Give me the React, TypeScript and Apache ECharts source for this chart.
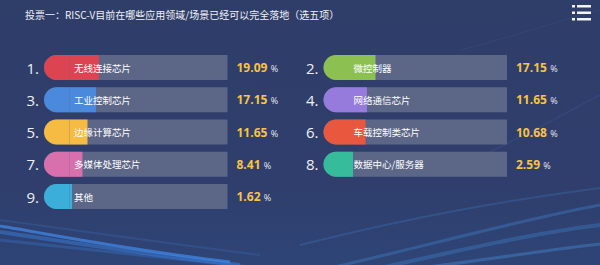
import React, { useEffect, useRef } from "react";
import * as echarts from "echarts";

const titleText = "投票一：RISC-V目前在哪些应用领域/场景已经可以完全落地（选五项）";

const leftRanks = [1, 3, 5, 7, 9];
const leftNames = ["无线连接芯片", "工业控制芯片", "边缘计算芯片", "多媒体处理芯片", "其他"];
const leftValues = [19.09, 17.15, 11.65, 8.41, 1.62];
const leftColors = ["#dd4452", "#4a89dc", "#f6bb42", "#d770ad", "#3bafda"];

const rightRanks = [2, 4, 6, 8];
const rightNames = ["微控制器", "网络通信芯片", "车载控制类芯片", "数据中心/服务器"];
const rightValues = [17.15, 11.65, 10.68, 2.59];
const rightColors = ["#8cc152", "#967adc", "#e9573f", "#37bc9b"];

const CAP = 16.5;
const AXIS_MAX = 118.8;
const TRACK = "#5c6788";
const ROW = 32.25;
const TOP = 51.4;
const BAR_W = 183.5;

function columnParts(idx: number, left: number, names: string[], ranks: number[], values: number[], colors: string[]) {
  const grid = { left, top: TOP, width: BAR_W, height: ROW * names.length, containLabel: false };
  const xAxis = { gridIndex: idx, type: "value", min: 0, max: AXIS_MAX, show: false };
  const yAxes = [
    {
      gridIndex: idx, type: "category", data: names, inverse: true, position: "left",
      axisLine: { show: false }, axisTick: { show: false }, splitLine: { show: false },
      axisLabel: {
        margin: 5, color: "#eef0f5", fontSize: 15, fontFamily: "Open Sans",
        formatter: (_v: string, i: number) => `${ranks[i]}.`,
      },
    },
    {
      gridIndex: idx, type: "category", data: names, inverse: true, position: "right",
      axisLine: { show: false }, axisTick: { show: false }, splitLine: { show: false },
      axisLabel: {
        margin: 9, align: "left",
        formatter: (_v: string, i: number) => `{v|${values[i].toFixed(2)}} {p|%}`,
        rich: {
          v: { color: "#f7c443", fontSize: 12, fontWeight: "bold", fontFamily: "Open Sans" },
          p: { color: "#e6e8ee", fontSize: 9, fontFamily: "Open Sans", padding: [2, 0, 0, 0] },
        },
      },
    },
  ];
  const series = [
    {
      type: "bar", xAxisIndex: idx, yAxisIndex: idx * 2, stack: "s" + idx, barWidth: 25,
      data: names.map((_n, i) => ({ value: CAP, itemStyle: { color: colors[i] } })),
      itemStyle: { borderRadius: [12.5, 0, 0, 12.5] },
      showBackground: true,
      backgroundStyle: { color: TRACK, borderRadius: [12.5, 0, 0, 12.5] },
      silent: true,
      z: 2,
    },
    {
      type: "bar", xAxisIndex: idx, yAxisIndex: idx * 2, stack: "s" + idx, barWidth: 25,
      data: values.map((v, i) => ({ value: v, itemStyle: { color: colors[i] } })),
      label: {
        show: true, position: "insideLeft", distance: 4.5, color: "#ffffff",
        fontSize: 9.5, fontFamily: "Noto Sans CJK SC",
        formatter: (p: any) => names[p.dataIndex],
      },
      labelLayout: { hideOverlap: false },
      silent: true,
      z: 3,
    },
  ];
  return { grid, xAxis, yAxes, series };
}

export default function App() {
  const ref = useRef<HTMLDivElement>(null);
  useEffect(() => {
    if (!ref.current) return;
    const chart = echarts.init(ref.current, undefined, { renderer: "svg" });
    const L = columnParts(0, 44, leftNames, leftRanks, leftValues, leftColors);
    const R = columnParts(1, 323.5, rightNames, rightRanks, rightValues, rightColors);

    const wave = (pts: number[][], color: string, w: number) => ({
      type: "bezierCurve",
      silent: true,
      shape: { x1: pts[0][0], y1: pts[0][1], cpx1: pts[1][0], cpy1: pts[1][1], cpx2: pts[2][0], cpy2: pts[2][1], x2: pts[3][0], y2: pts[3][1] },
      style: { stroke: color, lineWidth: w, fill: null },
      z: -1,
    });

    chart.setOption({
      animation: false,
      backgroundColor: {
        type: "linear", x: 0, y: 0, x2: 0, y2: 1,
        colorStops: [
          { offset: 0, color: "#2f3d69" },
          { offset: 0.7, color: "#2f3e6c" },
          { offset: 1, color: "#2e4577" },
        ],
      },
      title: {
        text: titleText, left: 20, top: 4,
        textStyle: { color: "#f0f2f7", fontSize: 10, fontWeight: "normal", fontFamily: "Noto Sans CJK SC" },
      },
      graphic: [
        wave([[0, 226], [60, 236], [130, 250], [230, 262]], "rgba(70,150,255,0.6)", 3),
        wave([[0, 232], [70, 242], [140, 254], [240, 265]], "rgba(60,140,240,0.4)", 4),
        wave([[0, 240], [80, 248], [160, 258], [260, 268]], "rgba(60,130,230,0.28)", 3),
        wave([[0, 220], [60, 228], [140, 240], [260, 255]], "rgba(70,140,230,0.18)", 2),
        wave([[330, 268], [430, 245], [520, 220], [600, 205]], "rgba(70,150,230,0.3)", 3),
        wave([[380, 268], [460, 250], [540, 232], [600, 225]], "rgba(70,150,230,0.28)", 4),
        wave([[300, 245], [420, 215], [510, 200], [600, 188]], "rgba(80,150,230,0.2)", 2),
        wave([[420, 268], [500, 258], [560, 248], [600, 244]], "rgba(80,160,240,0.32)", 3),
        wave([[440, 175], [520, 140], [570, 110], [600, 95]], "rgba(80,130,210,0.12)", 2),
        wave([[460, 50], [520, 35], [560, 20], [600, 10]], "rgba(80,130,210,0.12)", 1),
        { type: "rect", silent: true, shape: { x: 572, y: 5, width: 3, height: 2.5 }, style: { fill: "#f2f4f8" } },
        { type: "rect", silent: true, shape: { x: 577, y: 5, width: 14, height: 2.5 }, style: { fill: "#f2f4f8" } },
        { type: "rect", silent: true, shape: { x: 572, y: 11.5, width: 3, height: 2.5 }, style: { fill: "#f2f4f8" } },
        { type: "rect", silent: true, shape: { x: 577, y: 11.5, width: 14, height: 2.5 }, style: { fill: "#f2f4f8" } },
        { type: "rect", silent: true, shape: { x: 572, y: 18, width: 3, height: 2.5 }, style: { fill: "#f2f4f8" } },
        { type: "rect", silent: true, shape: { x: 577, y: 18, width: 14, height: 2.5 }, style: { fill: "#f2f4f8" } },
      ],
      grid: [L.grid, R.grid],
      xAxis: [L.xAxis, R.xAxis],
      yAxis: [...L.yAxes, ...R.yAxes],
      series: [...L.series, ...R.series],
    });
    return () => chart.dispose();
  }, []);
  return <div ref={ref} style={{ position: "fixed", left: 0, top: 0, width: 600, height: 265 }} />;
}
